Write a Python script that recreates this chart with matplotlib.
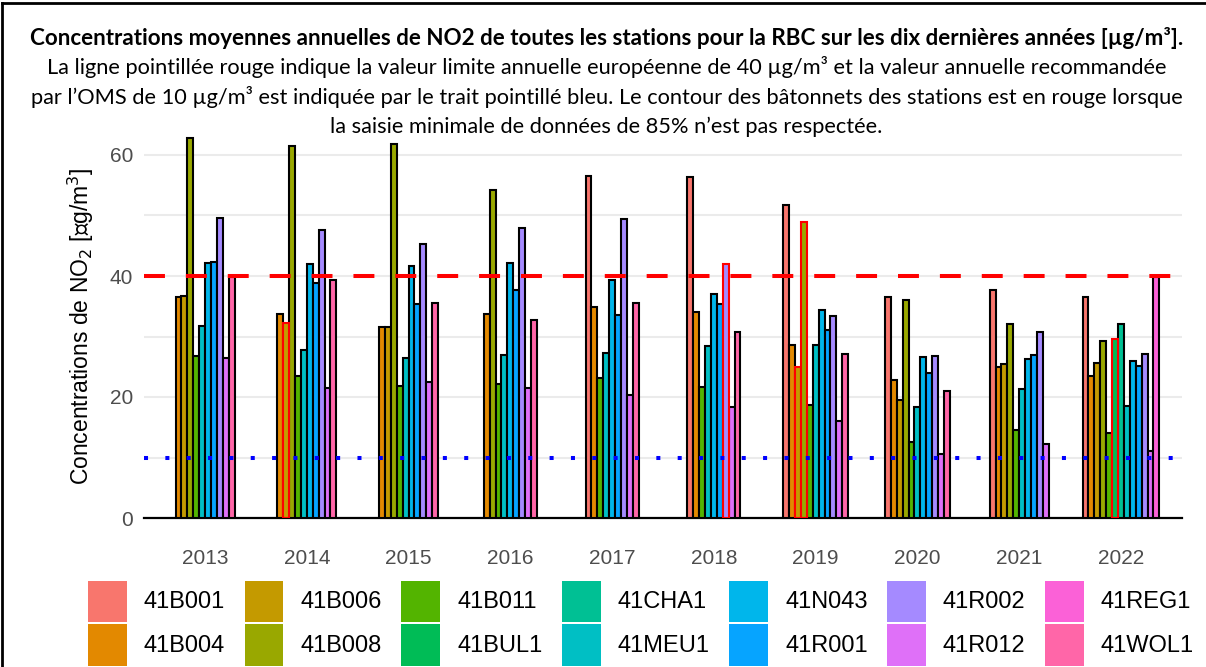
import numpy as np
import matplotlib
matplotlib.use("Agg")
import matplotlib.pyplot as plt
from matplotlib.patches import Patch

plt.rcParams["font.family"] = ["Liberation Sans", "DejaVu Sans"]

nan = np.nan

# data
years = [2013, 2014, 2015, 2016, 2017, 2018, 2019, 2020, 2021, 2022]
stations = ["41B001", "41B004", "41B006", "41B008", "41B011", "41BUL1", "41CHA1",
            "41MEU1", "41N043", "41R001", "41R002", "41R012", "41REG1", "41WOL1"]
colors = ["#F8766D", "#E38900", "#C49A00", "#99A800", "#53B400", "#00BC56", "#00C094",
          "#00BFC4", "#00B6EB", "#06A4FF", "#A58AFF", "#DF70F8", "#FB61D7", "#FF66A8"]

b001 = [nan, nan, nan, nan, 56.6, 56.4, 51.7, 36.5, 37.7, 36.6]
b004 = [36.5, 33.8, 31.6, 33.7, 34.8, 34.0, 28.6, 22.8, 25.0, 23.5]
b006 = [36.7, 32.3, 31.5, nan, nan, nan, 24.9, 19.5, 25.5, 25.7]
b008 = [62.8, 61.5, 61.9, 54.2, nan, nan, 48.9, 36.0, 32.1, 29.2]
b011 = [26.7, 23.4, 21.8, 22.1, 23.2, 21.6, 18.6, 12.6, 14.5, 14.0]
bul1 = [nan, nan, nan, nan, nan, nan, nan, nan, nan, 29.6]
cha1 = [nan, nan, nan, nan, nan, nan, nan, nan, nan, 32.0]
meu1 = [31.8, 27.8, 26.4, 26.9, 27.3, 28.5, 28.6, 18.4, 21.3, 18.5]
n043 = [42.2, 42.0, 41.7, 42.2, 39.3, 37.1, 34.3, 26.6, 26.2, 26.0]
r001 = [42.3, 38.8, 35.3, 37.7, 33.6, 35.4, 31.0, 23.9, 27.0, 25.2]
r002 = [49.6, 47.6, 45.3, 47.9, 49.5, 42.0, 33.4, 26.7, 30.7, 27.1]
r012 = [26.4, 21.5, 22.5, 21.5, 20.3, 18.4, 16.0, 10.6, 12.2, 11.0]
reg1 = [nan, nan, nan, nan, nan, nan, nan, nan, nan, 39.9]
wol1 = [39.9, 39.3, 35.5, 32.8, 35.5, 30.7, 27.1, 21.0, nan, nan]

# station-years where the 85% data capture was not met (red outline)
low_capture = [("41B006", 2014), ("41R002", 2018), ("41B006", 2019),
               ("41B008", 2019), ("41BUL1", 2022)]

eu_limit = 40
who_guideline = 10

series = [b001, b004, b006, b008, b011, bul1, cha1, meu1, n043, r001, r002, r012, reg1, wol1]

fig = plt.figure(figsize=(12.06, 6.67), dpi=100)
ax = fig.add_axes([144 / 1206, 1 - 518 / 667, (1182 - 144) / 1206, 63.5 * 6.05 / 667])

bw = 0.058
for j, yr in enumerate(years):
    present = [i for i in range(len(stations)) if not np.isnan(series[i][j])]
    n = len(present)
    for k, i in enumerate(present):
        xpos = j + (k - (n - 1) / 2) * bw
        red = (stations[i], yr) in low_capture
        ax.bar(xpos, series[i][j], width=bw, color=colors[i],
               edgecolor="red" if red else "black", linewidth=1.5,
               zorder=4 if red else 3)

ax.axhline(eu_limit, color="#FF0000", lw=2.9, linestyle=(0, (5.2, 5.2)), zorder=5)
ax.axhline(who_guideline, color="#0000FF", lw=2.9, linestyle=(0, (1, 4.3)), zorder=5)

ax.set_xlim(-0.6, 9.6)
ax.set_ylim(0, 63.5)
ax.set_xticks(range(len(years)))
ax.set_xticklabels([str(y) for y in years])
ax.set_yticks([0, 20, 40, 60])
ax.set_yticks([10, 30, 50], minor=True)
ax.grid(axis="y", which="both", color="#EBEBEB", lw=1.5, zorder=0)
ax.set_axisbelow(True)
for s in ["top", "right", "left"]:
    ax.spines[s].set_visible(False)
ax.spines["bottom"].set_linewidth(1.6)
ax.tick_params(axis="both", which="both", length=0, labelsize=15, colors="#4D4D4D")
ax.tick_params(axis="y", pad=8)
ax.tick_params(axis="x", pad=22)
ax.set_ylabel("Concentrations de NO$_2$ [∝g/m$^3$]", fontsize=16.5)
ax.yaxis.set_label_coords(-0.046, 0.5)

# title block
tfont = "Lato"
tx = 0.503
fig.text(tx, 1 - 38 / 667, "Concentrations moyennes annuelles de NO2 de toutes les stations pour la RBC sur les dix dernières années [µg/m³].",
         ha="center", va="center", fontsize=16.1, fontweight="bold", family=tfont)
lines = ["La ligne pointillée rouge indique la valeur limite annuelle européenne de 40 µg/m³ et la valeur annuelle recommandée",
         "par l’OMS de 10 µg/m³ est indiquée par le trait pointillé bleu. Le contour des bâtonnets des stations est en rouge lorsque",
         "la saisie minimale de données de 85% n’est pas respectée."]
for k, t in enumerate(lines):
    fig.text(tx, 1 - (67 + 30 * k) / 667, t, ha="center", va="center", fontsize=15.7, family=tfont)

# legend
handles = [Patch(facecolor=c, edgecolor="none") for c in colors]
fig.legend(handles, stations, ncol=7, loc="center", bbox_to_anchor=(641 / 1206, 1 - 623 / 667),
           frameon=False, fontsize=17, handlelength=1.65, handleheight=2.3,
           handletextpad=0.72, columnspacing=0.82, labelspacing=0.12, borderpad=0)

# outer frame (left and top edges visible)
fig.add_artist(plt.Line2D([0.0015, 0.0015], [0, 0.996], color="black", lw=2, transform=fig.transFigure))
fig.add_artist(plt.Line2D([0.0015, 1], [0.996, 0.996], color="black", lw=2, transform=fig.transFigure))

fig.savefig("out.png", dpi=100)
